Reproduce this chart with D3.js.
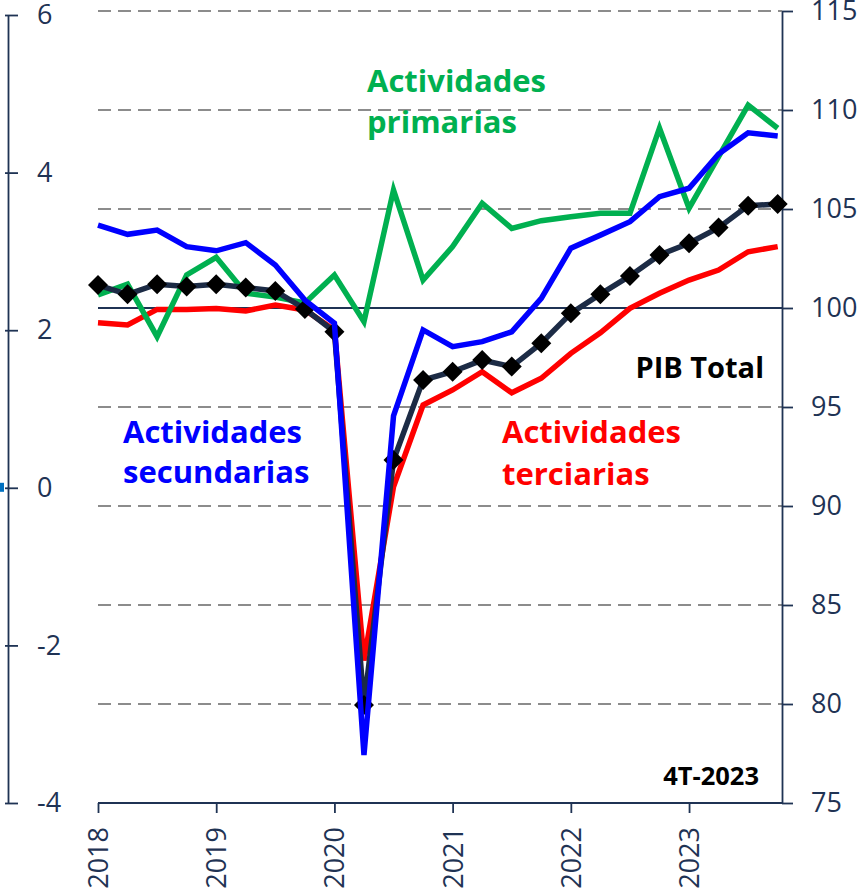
<!DOCTYPE html>
<html>
<head>
<meta charset="utf-8">
<script src="https://cdn.jsdelivr.net/npm/d3@7"></script>
<style>
  html, body { margin: 0; padding: 0; background: #fff; }
  svg { display: block; font-family: "Open Sans", "Noto Sans", sans-serif; }
</style>
</head>
<body>
<svg id="chart" width="867" height="893"></svg>
<script>
// ---- Data (index, right axis) ----
const quarters = [
  "2018T1","2018T2","2018T3","2018T4",
  "2019T1","2019T2","2019T3","2019T4",
  "2020T1","2020T2","2020T3","2020T4",
  "2021T1","2021T2","2021T3","2021T4",
  "2022T1","2022T2","2022T3","2022T4",
  "2023T1","2023T2","2023T3","2023T4"
];
const yearTicks = ["2018T1","2019T1","2020T1","2021T1","2022T1","2023T1"];
const yearLabels = ["2018","2019","2020","2021","2022","2023"];

const pibTotal = [101.16, 100.69, 101.20, 101.08, 101.20, 101.03, 100.86, 99.95,
                  98.80, 79.95, 92.32, 96.36, 96.78, 97.37, 97.04, 98.22,
                  99.73, 100.70, 101.62, 102.68, 103.27, 104.06, 105.17, 105.25];
const primarias = [100.66, 101.20, 98.55, 101.67, 102.56, 100.75, 100.55, 100.25,
                   101.67, 99.31, 105.96, 101.41, 103.10, 105.29, 104.02, 104.41,
                   104.61, 104.78, 104.78, 109.08, 105.04, 107.64, 110.25, 109.08];
const secundarias = [104.19, 103.72, 103.94, 103.10, 102.89, 103.30, 102.17, 100.40,
                     99.23, 77.42, 94.55, 98.89, 98.05, 98.30, 98.80, 100.49,
                     103.02, 103.68, 104.36, 105.62, 106.05, 107.78, 108.85, 108.69];
const terciarias = [99.26, 99.14, 99.93, 99.93, 99.98, 99.85, 100.15, 99.90,
                    98.89, 82.20, 90.97, 95.10, 95.86, 96.78, 95.72, 96.45,
                    97.71, 98.75, 99.98, 100.74, 101.41, 101.92, 102.84, 103.10];

const rightTicks = [75, 80, 85, 90, 95, 100, 105, 110, 115];
const leftTicks = [-4, -2, 0, 2, 4, 6];

// ---- Layout ----
const navy = "#1F3354";
const svg = d3.select("#chart");
const xLeft = 98, xRight = 782, yBottom = 803;

const x = d3.scalePoint().domain(quarters).range([98, 777.7]);
const yR = d3.scaleLinear().domain([75, 115]).range([803, 11]);
const yL = d3.scaleLinear().domain([-4, 6]).range([803, 15]);

// Grid lines (dashed) on right-axis ticks, solid at 100
const grid = svg.append("g");
grid.selectAll("line")
  .data(rightTicks.filter(v => v !== 75))
  .join("line")
  .attr("x1", xLeft).attr("x2", xRight)
  .attr("y1", d => yR(d)).attr("y2", d => yR(d))
  .attr("stroke", d => d === 100 ? navy : "#8C8C8C")
  .attr("stroke-width", d => d === 100 ? 1.8 : 2)
  .attr("stroke-dasharray", d => d === 100 ? null : "13,7");

// Left axis
const gL = svg.append("g").attr("transform", "translate(8,0)")
  .call(d3.axisLeft(yL).tickValues(leftTicks).tickSize(0).tickFormat(d3.format("d")));
gL.select(".domain").attr("stroke", navy).attr("stroke-width", 1.8);
gL.selectAll(".tick line").remove();
gL.selectAll(".tick").append("line")
  .attr("x1", -3).attr("x2", 10).attr("stroke", navy).attr("stroke-width", 1.8);
gL.selectAll(".tick text")
  .attr("x", 29).attr("text-anchor", "start")
  .attr("fill", navy).style("font-size", "27px")
  .style("font-family", "'Open Sans', sans-serif")
  .text(d => d < 0 ? "-" + Math.abs(d) : d);

// small blue mark near zero of the left axis
svg.append("rect").attr("x", 0).attr("y", yL(0) - 5).attr("width", 4).attr("height", 9)
  .attr("fill", "#0070C0");

// Right axis
const gR = svg.append("g").attr("transform", `translate(${xRight},0)`)
  .call(d3.axisRight(yR).tickValues(rightTicks).tickSize(11).tickSizeOuter(0).tickPadding(18));
gR.select(".domain").attr("stroke", navy).attr("stroke-width", 1.8);
gR.selectAll(".tick line").attr("stroke", navy).attr("stroke-width", 1.8);
gR.selectAll(".tick text")
  .attr("fill", navy).style("font-size", "27px")
  .style("font-family", "'Open Sans', sans-serif");

// Bottom axis
const gB = svg.append("g").attr("transform", `translate(0,${yBottom})`);
gB.append("line").attr("x1", xLeft).attr("x2", xRight)
  .attr("stroke", navy).attr("stroke-width", 1.8);
const xAxis = d3.axisBottom(x).tickValues(yearTicks).tickSize(10).tickSizeOuter(0)
  .tickFormat((d, i) => yearLabels[i]);
gB.call(xAxis);
gB.select(".domain").remove();
gB.selectAll(".tick line").attr("stroke", navy).attr("stroke-width", 1.8);
gB.selectAll(".tick text")
  .attr("transform", "rotate(-90)")
  .attr("x", -24).attr("y", 0).attr("dy", "0.35em")
  .attr("text-anchor", "end")
  .attr("fill", navy).style("font-size", "27px")
  .style("font-family", "'Open Sans', sans-serif");

// Lines
const line = d3.line().x((d, i) => x(quarters[i])).y(d => yR(d));
const plot = svg.append("g");
function drawLine(data, color) {
  plot.append("path").datum(data)
    .attr("d", line).attr("fill", "none")
    .attr("stroke", color).attr("stroke-width", 5.5)
    .attr("stroke-linejoin", "miter");
}
drawLine(terciarias, "#FF0000");
drawLine(primarias, "#00B050");
drawLine(pibTotal, "#1C2B45");
plot.selectAll(".diamond").data(pibTotal).join("path")
  .attr("class", "diamond")
  .attr("d", d3.symbol(d3.symbolSquare, 200)())
  .attr("transform", (d, i) => `translate(${x(quarters[i])},${yR(d)}) rotate(45)`)
  .attr("fill", "#000");
drawLine(secundarias, "#0000FF");

// Annotations
function label(lines, xPos, yPos, color, size, anchor, lh) {
  const t = svg.append("text").attr("x", xPos).attr("y", yPos)
    .attr("fill", color).attr("font-weight", "bold")
    .attr("text-anchor", anchor || "start")
    .style("font-size", size + "px");
  lines.forEach((s, i) => {
    t.append("tspan").attr("x", xPos).attr("dy", i === 0 ? 0 : lh).text(s);
  });
}
label(["Actividades", "primarias"], 367, 92, "#00B050", 31, "start", 41);
label(["Actividades", "secundarias"], 123, 443, "#0000FF", 31, "start", 40);
label(["Actividades", "terciarias"], 502, 443, "#FF0000", 31, "start", 42);
label(["PIB Total"], 764, 378, "#000000", 29, "end", 0);
label(["4T-2023"], 759, 785, "#000000", 25.5, "end", 0);
</script>
</body>
</html>
